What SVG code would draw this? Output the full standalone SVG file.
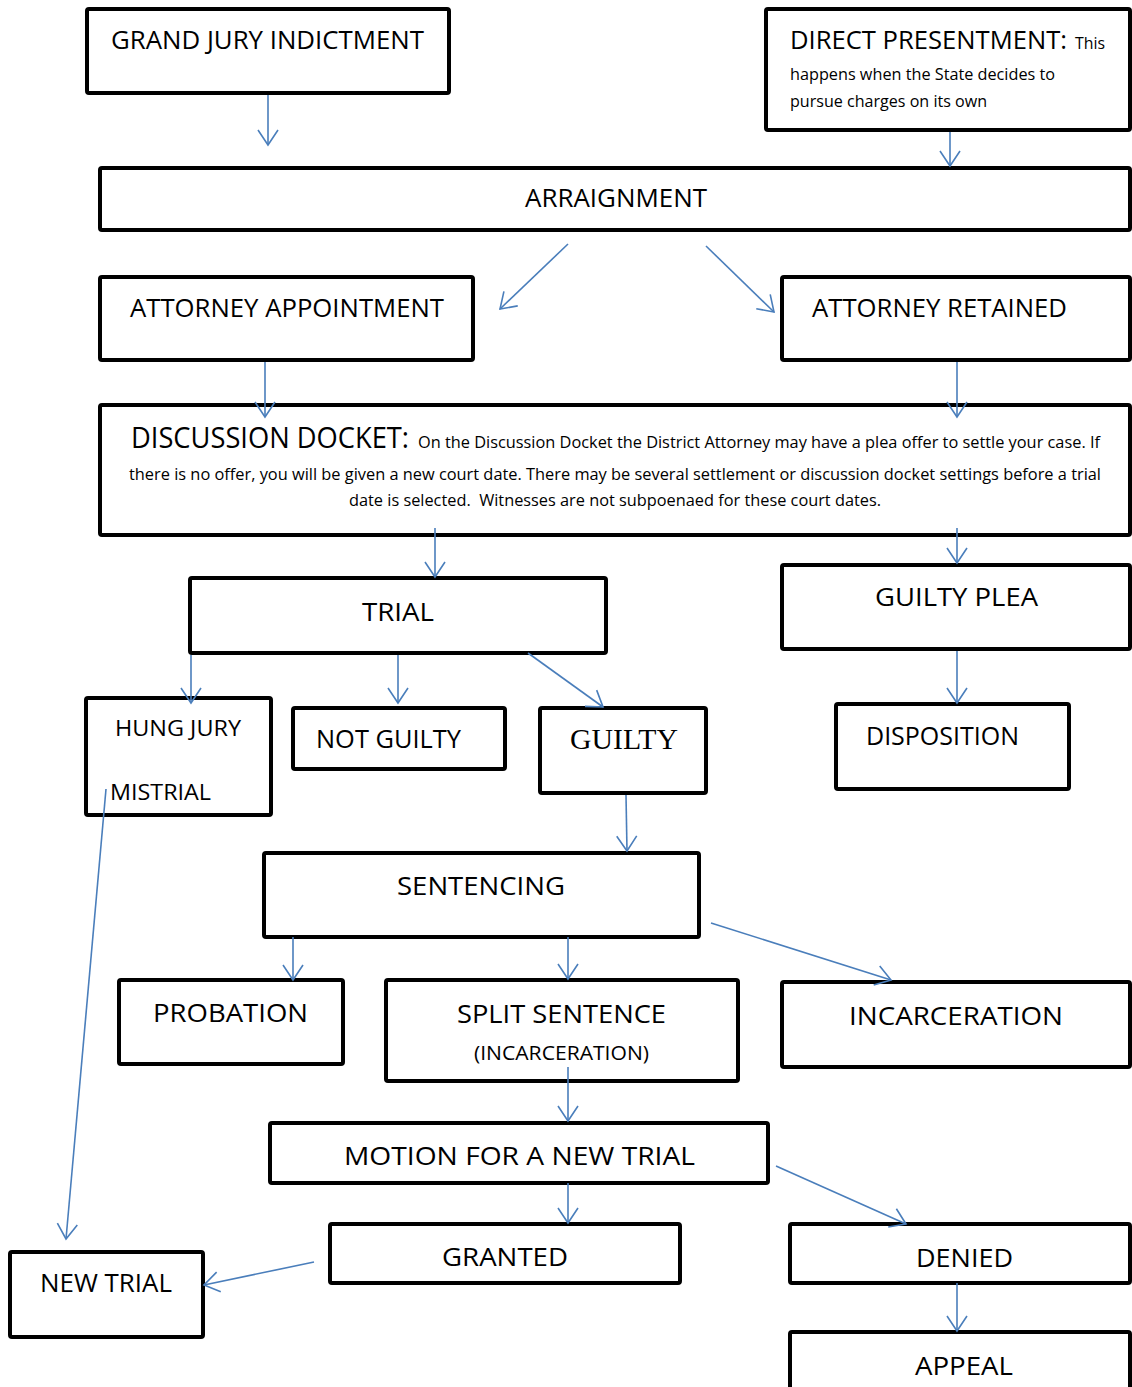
<svg xmlns="http://www.w3.org/2000/svg" width="1132" height="1387" viewBox="0 0 1132 1387">
<style>
.box{fill:#fff;stroke:#000;stroke-width:4;rx:2;}
.t{font-family:"Open Sans","Liberation Sans",sans-serif;font-size:25px;fill:#000;}
.s{font-family:"Open Sans","Liberation Sans",sans-serif;font-size:16px;fill:#000;}
.c{fill:none;stroke:#4a7ebb;stroke-width:1.6;marker-end:url(#ah);}
</style>
<defs>
<marker id="ah" markerUnits="userSpaceOnUse" markerWidth="40" markerHeight="40" refX="0" refY="0" viewBox="-20 -20 40 40" orient="auto" overflow="visible">
<path d="M-15,-10 L0,0 L-15,10" fill="none" stroke="#4a7ebb" stroke-width="1.6"/>
</marker>
</defs>
<rect width="1132" height="1387" fill="#fff"/>

<g id="grand-jury"><rect class="box" x="87" y="9" width="362" height="84"/>
<text class="t" x="111" y="49" textLength="313" lengthAdjust="spacingAndGlyphs">GRAND JURY INDICTMENT</text></g>

<g id="direct-presentment"><rect class="box" x="766" y="9" width="364" height="121"/>
<text class="t" x="790" y="49" textLength="277" lengthAdjust="spacingAndGlyphs">DIRECT PRESENTMENT:</text>
<text class="s" x="1075" y="49" textLength="30" lengthAdjust="spacingAndGlyphs">This</text>
<text class="s" x="790" y="80" textLength="265" lengthAdjust="spacingAndGlyphs">happens when the State decides to</text>
<text class="s" x="790" y="107" textLength="197" lengthAdjust="spacingAndGlyphs">pursue charges on its own</text></g>

<g id="arraignment"><rect class="box" x="100" y="168" width="1030" height="62"/>
<text class="t" x="525" y="207" textLength="182" lengthAdjust="spacingAndGlyphs">ARRAIGNMENT</text></g>

<g id="attorney-appointment"><rect class="box" x="100" y="277" width="373" height="83"/>
<text class="t" x="130" y="317" textLength="314" lengthAdjust="spacingAndGlyphs">ATTORNEY APPOINTMENT</text></g>

<g id="attorney-retained"><rect class="box" x="782" y="277" width="348" height="83"/>
<text class="t" x="812" y="317" textLength="255" lengthAdjust="spacingAndGlyphs">ATTORNEY RETAINED</text></g>

<g id="discussion-docket"><rect class="box" x="100" y="405" width="1030" height="130"/>
<text class="t" x="131" y="448" style="font-size:29px" textLength="278" lengthAdjust="spacingAndGlyphs">DISCUSSION DOCKET:</text>
<text class="s" x="418" y="448" textLength="682" lengthAdjust="spacingAndGlyphs">On the Discussion Docket the District Attorney may have a plea offer to settle your case. If</text>
<text class="s" x="129" y="480" textLength="972" lengthAdjust="spacingAndGlyphs">there is no offer, you will be given a new court date. There may be several settlement or discussion docket settings before a trial</text>
<text class="s" x="349" y="506" textLength="532" lengthAdjust="spacingAndGlyphs" xml:space="preserve">date is selected.  Witnesses are not subpoenaed for these court dates.</text></g>

<g id="trial"><rect class="box" x="190" y="578" width="416" height="75"/>
<text class="t" x="362" y="621" textLength="72" lengthAdjust="spacingAndGlyphs">TRIAL</text></g>

<g id="guilty-plea"><rect class="box" x="782" y="565" width="348" height="84"/>
<text class="t" x="875" y="606" textLength="163" lengthAdjust="spacingAndGlyphs">GUILTY PLEA</text></g>

<g id="hung-jury"><rect class="box" x="86" y="698" width="185" height="117"/>
<text class="t" x="115" y="736" style="font-size:22px" textLength="126" lengthAdjust="spacingAndGlyphs">HUNG JURY</text>
<text class="t" x="110" y="800" style="font-size:22px" textLength="101" lengthAdjust="spacingAndGlyphs">MISTRIAL</text></g>

<g id="not-guilty"><rect class="box" x="293" y="708" width="212" height="61"/>
<text class="t" x="316" y="748" textLength="145" lengthAdjust="spacingAndGlyphs">NOT GUILTY</text></g>

<g id="guilty"><rect class="box" x="540" y="708" width="166" height="85"/>
<text x="570" y="749" style="font-family:'Liberation Serif','Times New Roman',serif;font-size:30px" textLength="108" lengthAdjust="spacingAndGlyphs">GUILTY</text></g>

<g id="disposition"><rect class="box" x="836" y="704" width="233" height="85"/>
<text class="t" x="866" y="745" textLength="153" lengthAdjust="spacingAndGlyphs">DISPOSITION</text></g>

<g id="sentencing"><rect class="box" x="264" y="853" width="435" height="84"/>
<text class="t" x="397" y="895" textLength="168" lengthAdjust="spacingAndGlyphs">SENTENCING</text></g>

<g id="probation"><rect class="box" x="119" y="980" width="224" height="84"/>
<text class="t" x="153" y="1022" textLength="155" lengthAdjust="spacingAndGlyphs">PROBATION</text></g>

<g id="split-sentence"><rect class="box" x="386" y="980" width="352" height="101"/>
<text class="t" x="457" y="1023" textLength="209" lengthAdjust="spacingAndGlyphs">SPLIT SENTENCE</text>
<text class="t" x="474" y="1060" style="font-size:20px" textLength="175" lengthAdjust="spacingAndGlyphs">(INCARCERATION)</text></g>

<g id="incarceration"><rect class="box" x="782" y="982" width="348" height="85"/>
<text class="t" x="849" y="1025" textLength="214" lengthAdjust="spacingAndGlyphs">INCARCERATION</text></g>

<g id="motion-new-trial"><rect class="box" x="270" y="1123" width="498" height="60"/>
<text class="t" x="344" y="1165" textLength="351" lengthAdjust="spacingAndGlyphs">MOTION FOR A NEW TRIAL</text></g>

<g id="granted"><rect class="box" x="330" y="1224" width="350" height="59"/>
<text class="t" x="442" y="1266" textLength="126" lengthAdjust="spacingAndGlyphs">GRANTED</text></g>

<g id="denied"><rect class="box" x="790" y="1224" width="340" height="59"/>
<text class="t" x="916" y="1267" textLength="97" lengthAdjust="spacingAndGlyphs">DENIED</text></g>

<g id="new-trial"><rect class="box" x="10" y="1252" width="193" height="85"/>
<text class="t" x="40" y="1292" textLength="132" lengthAdjust="spacingAndGlyphs">NEW TRIAL</text></g>

<g id="appeal"><rect class="box" x="790" y="1332" width="340" height="70"/>
<text class="t" x="915" y="1375" textLength="98" lengthAdjust="spacingAndGlyphs">APPEAL</text></g>

<g id="connectors">
<line class="c" x1="268" y1="95" x2="268" y2="145"/>
<line class="c" x1="950" y1="132" x2="950" y2="166"/>
<line class="c" x1="568" y1="244" x2="500" y2="309"/>
<line class="c" x1="706" y1="246" x2="774" y2="312"/>
<line class="c" x1="265" y1="362" x2="265" y2="417"/>
<line class="c" x1="957" y1="362" x2="957" y2="417"/>
<line class="c" x1="435" y1="528" x2="435" y2="577"/>
<line class="c" x1="957" y1="528" x2="957" y2="563"/>
<line class="c" x1="191" y1="655" x2="191" y2="703"/>
<line class="c" x1="398" y1="655" x2="398" y2="703"/>
<line class="c" x1="528" y1="653" x2="603" y2="707"/>
<line class="c" x1="626" y1="795" x2="627" y2="851"/>
<line class="c" x1="957" y1="651" x2="957" y2="703"/>
<line class="c" x1="106" y1="789" x2="66" y2="1239"/>
<line class="c" x1="293" y1="937" x2="293" y2="980"/>
<line class="c" x1="568" y1="937" x2="568" y2="979"/>
<line class="c" x1="711" y1="923" x2="891" y2="980"/>
<line class="c" x1="568" y1="1067" x2="568" y2="1121"/>
<line class="c" x1="568" y1="1183" x2="568" y2="1223"/>
<line class="c" x1="314" y1="1262" x2="204" y2="1285"/>
<line class="c" x1="776" y1="1166" x2="906" y2="1224"/>
<line class="c" x1="957" y1="1283" x2="957" y2="1331"/>
</g>
</svg>
